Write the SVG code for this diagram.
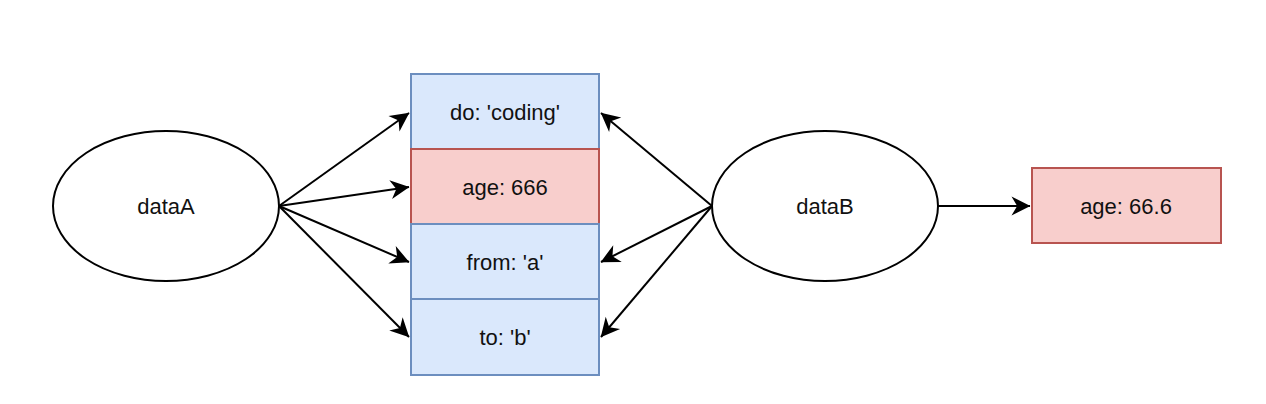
<svg xmlns="http://www.w3.org/2000/svg" width="1266" height="404" viewBox="0 0 1266 404">
<style>
text{font-family:"Liberation Sans",Arial,sans-serif;font-size:22px;fill:#111;text-anchor:middle;dominant-baseline:central}
.ell{fill:#fff;stroke:#000;stroke-width:2}
.blue{fill:#dae8fc;stroke:#6c8ebf;stroke-width:2}
.red{fill:#f8cecc;stroke:#b85450;stroke-width:2}
.edge{fill:none;stroke:#000;stroke-width:2;marker-end:url(#arr)}
</style>
<defs>
<marker id="arr" viewBox="0 0 10 10" refX="9" refY="5" markerWidth="9" markerHeight="9" markerUnits="userSpaceOnUse" orient="auto" overflow="visible">
<path d="M0,0 L10,5 L0,10 L3,5 Z" fill="#000" transform="scale(2.1) translate(-5.5,-2.6)"/>
</marker>
</defs>
<rect width="1266" height="404" fill="#fff"/>
<g id="connectors">
<line class="edge" x1="279" y1="206" x2="409" y2="113"/>
<line class="edge" x1="279" y1="206" x2="409" y2="187"/>
<line class="edge" x1="279" y1="206" x2="409" y2="262"/>
<line class="edge" x1="279" y1="206" x2="409" y2="337"/>
<line class="edge" x1="712" y1="206" x2="601" y2="113"/>
<line class="edge" x1="712" y1="206" x2="601" y2="262"/>
<line class="edge" x1="712" y1="206" x2="601" y2="337"/>
<line class="edge" x1="938" y1="206" x2="1030" y2="206"/>
</g>
<g id="dataA"><ellipse class="ell" cx="166" cy="206" rx="113" ry="75"/><text x="166" y="206">dataA</text></g>
<g id="do"><rect class="blue" x="411" y="74" width="188" height="75"/><text x="505" y="112">do: 'coding'</text></g>
<g id="age666"><rect class="red" x="411" y="149" width="188" height="75"/><text x="505" y="187">age: 666</text></g>
<g id="from"><rect class="blue" x="411" y="224" width="188" height="75"/><text x="505" y="262">from: 'a'</text></g>
<g id="to"><rect class="blue" x="411" y="299" width="188" height="76"/><text x="505" y="337">to: 'b'</text></g>
<g id="dataB"><ellipse class="ell" cx="825" cy="206" rx="113" ry="75"/><text x="825" y="206">dataB</text></g>
<g id="age666b"><rect class="red" x="1032" y="168" width="189" height="75"/><text x="1126" y="206">age: 66.6</text></g>
</svg>
